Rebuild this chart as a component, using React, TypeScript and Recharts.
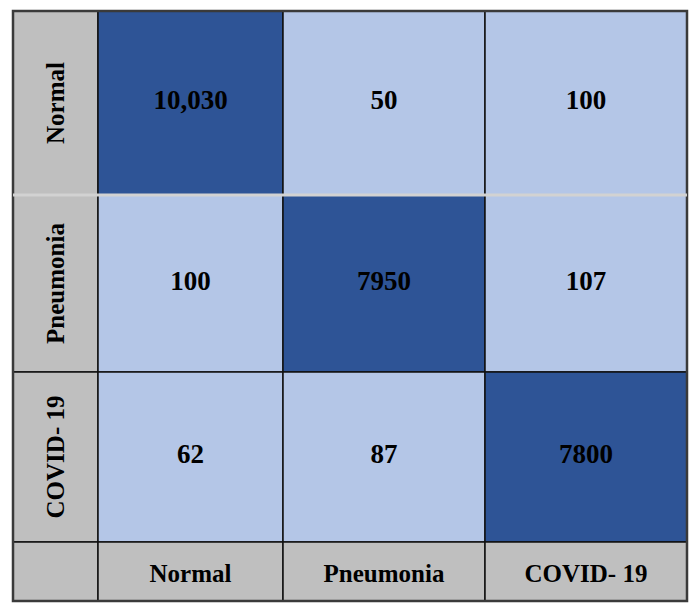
import React from 'react';
import { ComposedChart, XAxis, YAxis, ReferenceArea, ReferenceLine } from 'recharts';

// ---- data ----
const categories = ['Normal', 'Pneumonia', 'COVID- 19'];
const normalRow = [10030, 50, 100];
const pneumoniaRow = [100, 7950, 107];
const covidRow = [62, 87, 7800];
const matrix = [normalRow, pneumoniaRow, covidRow];

// ---- layout ----
const W = 698;
const H = 612;
const MARGIN = { top: 11, right: 11, bottom: 11, left: 13 };
const colWidths = [85, 185, 202, 202];
const rowHeights = [184, 177, 170, 59];
const DARK = '#2E5496';
const LIGHT = '#B4C6E7';
const GRAY = '#BFBFBF';
const FONT = '"Liberation Serif", "Times New Roman", serif';

const edges = (sizes: number[]) => {
  const out = [0];
  sizes.forEach((s) => out.push(out[out.length - 1] + s));
  return out;
};
const xEdges = edges(colWidths);
const yEdges = edges(rowHeights);
const totalW = xEdges[xEdges.length - 1];
const totalH = yEdges[yEdges.length - 1];

const fmt = (v: number) => (v >= 10000 ? v.toLocaleString('en-US') : String(v));

const CellText = (props: any) => {
  const { viewBox, text, rotate, size, dy = 0 } = props;
  if (!viewBox) return null;
  const { x, y, width, height } = viewBox;
  const cx = x + width / 2;
  const cy = y + height / 2 + dy;
  return (
    <text
      x={cx}
      y={cy}
      textAnchor="middle"
      dominantBaseline="central"
      transform={rotate ? `rotate(-90 ${cx} ${cy})` : undefined}
      fontFamily={FONT}
      fontWeight="bold"
      fontSize={size}
      fill="#000"
    >
      {text}
    </text>
  );
};

export default function App() {
  const areas: React.ReactNode[] = [];
  // row header cells
  categories.forEach((cat, r) => {
    areas.push(
      <ReferenceArea
        key={`rh-${r}`}
        x1={xEdges[0]}
        x2={xEdges[1]}
        y1={yEdges[r]}
        y2={yEdges[r + 1]}
        fill={GRAY}
        fillOpacity={1}
        stroke="#111"
        strokeWidth={1.5}
        ifOverflow="visible"
        label={(p: any) => <CellText {...p} text={cat} rotate size={25} />}
      />
    );
  });
  // matrix cells
  matrix.forEach((row, r) => {
    row.forEach((v, c) => {
      areas.push(
        <ReferenceArea
          key={`c-${r}-${c}`}
          x1={xEdges[c + 1]}
          x2={xEdges[c + 2]}
          y1={yEdges[r]}
          y2={yEdges[r + 1]}
          fill={r === c ? DARK : LIGHT}
          fillOpacity={1}
          stroke="#111"
          strokeWidth={1.5}
          ifOverflow="visible"
          label={(p: any) => <CellText {...p} text={fmt(v)} size={27} dy={-3} />}
        />
      );
    });
  });
  // bottom header row
  areas.push(
    <ReferenceArea
      key="corner"
      x1={xEdges[0]}
      x2={xEdges[1]}
      y1={yEdges[3]}
      y2={yEdges[4]}
      fill={GRAY}
      fillOpacity={1}
      stroke="#111"
      strokeWidth={1.5}
      ifOverflow="visible"
    />
  );
  categories.forEach((cat, c) => {
    areas.push(
      <ReferenceArea
        key={`ch-${c}`}
        x1={xEdges[c + 1]}
        x2={xEdges[c + 2]}
        y1={yEdges[3]}
        y2={yEdges[4]}
        fill={GRAY}
        fillOpacity={1}
        stroke="#111"
        strokeWidth={1.5}
        ifOverflow="visible"
        label={(p: any) => <CellText {...p} text={cat} size={25} dy={2} />}
      />
    );
  });
  areas.push(
    <ReferenceArea
      key="outer"
      x1={0}
      x2={totalW}
      y1={0}
      y2={totalH}
      fill="none"
      fillOpacity={0}
      stroke="#3A3A3A"
      strokeWidth={2.5}
      ifOverflow="visible"
    />
  );

  return (
    <div style={{ position: 'absolute', left: 0, top: 0, background: '#fff' }}>
      <ComposedChart width={W} height={H} margin={MARGIN} data={[{ x: 0, y: 0 }]}>
        <XAxis type="number" dataKey="x" domain={[0, totalW]} hide allowDataOverflow />
        <YAxis type="number" dataKey="y" domain={[0, totalH]} reversed hide allowDataOverflow />
        {areas}
        <ReferenceLine
          y={yEdges[1]}
          stroke="#D2D2D2"
          strokeWidth={3}
          ifOverflow="visible"
        />
      </ComposedChart>
    </div>
  );
}
